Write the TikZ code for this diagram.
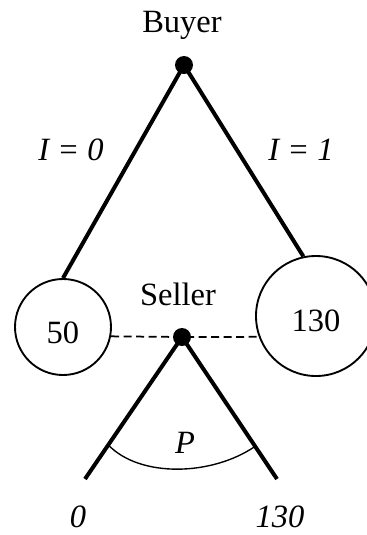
\documentclass[tikz,border=0pt]{standalone}
\usepackage{fontspec}
\setmainfont{Liberation Serif}
\usetikzlibrary{calc}
\tikzset{
    dot/.style = {circle, fill = black, inner sep = 0pt, minimum size = 7.2pt},
    payoff/.style = {circle, draw, line width = 0.75pt, inner sep = 0pt, text depth = 0pt},
    branch/.style = {line width = 1.6pt},
    info/.style = {line width = 0.7pt, dash pattern = on 3.2pt off 1.8pt},
}
\begin{document}
\begin{tikzpicture}[x = 0.4pt, y = -0.4pt, font = \fontsize{13}{15}\selectfont]
        \useasboundingbox (0, 0) rectangle (367, 535);
        \node[dot] (buyer) at (184, 65) {};
        \node[anchor = base] (buyertxt) at (182, 32) {Buyer};
        \node[payoff, minimum size = 38.4pt, text height = 12.8pt] (low) at (63, 327) {50};
        \node[payoff, minimum size = 48pt, text height = 12pt] (high) at (316, 316) {130};
        \draw[branch] (buyer.center) -- (low.north);
        \draw[branch] (buyer.center) -- (high.102);
        \node[anchor = base] (izero) at (71, 160) {\textit{I = 0}};
        \node[anchor = base] (ione) at (301, 160) {\textit{I = 1}};
        \begin{scope}
            \node[dot] (seller) at (182, 337) {};
            \node[anchor = base] (sellertxt) at (178, 305) {Seller};
            \draw[info] (low.-11) -- (seller.center) -- (high.200);
            \coordinate (zero) at (85, 479);
            \coordinate (full) at (277, 479);
            \draw[branch] (seller.center) -- (zero);
            \draw[branch] (seller.center) -- (full);
            \coordinate (pleft) at ($(seller)!0.76!(zero)$);
            \coordinate (pright) at ($(seller)!0.77!(full)$);
            \draw[line width = 0.55pt] (pleft) .. controls (140, 478) and (212, 476) .. (pright);
            \node[anchor = base] (ptxt) at (185, 453) {\textit{P}};
            \node[anchor = base] (zerotxt) at (78, 527) {\textit{0}};
            \node[anchor = base] (fulltxt) at (280, 527) {\textit{130}};
        \end{scope}
    \end{tikzpicture}
\end{document}
